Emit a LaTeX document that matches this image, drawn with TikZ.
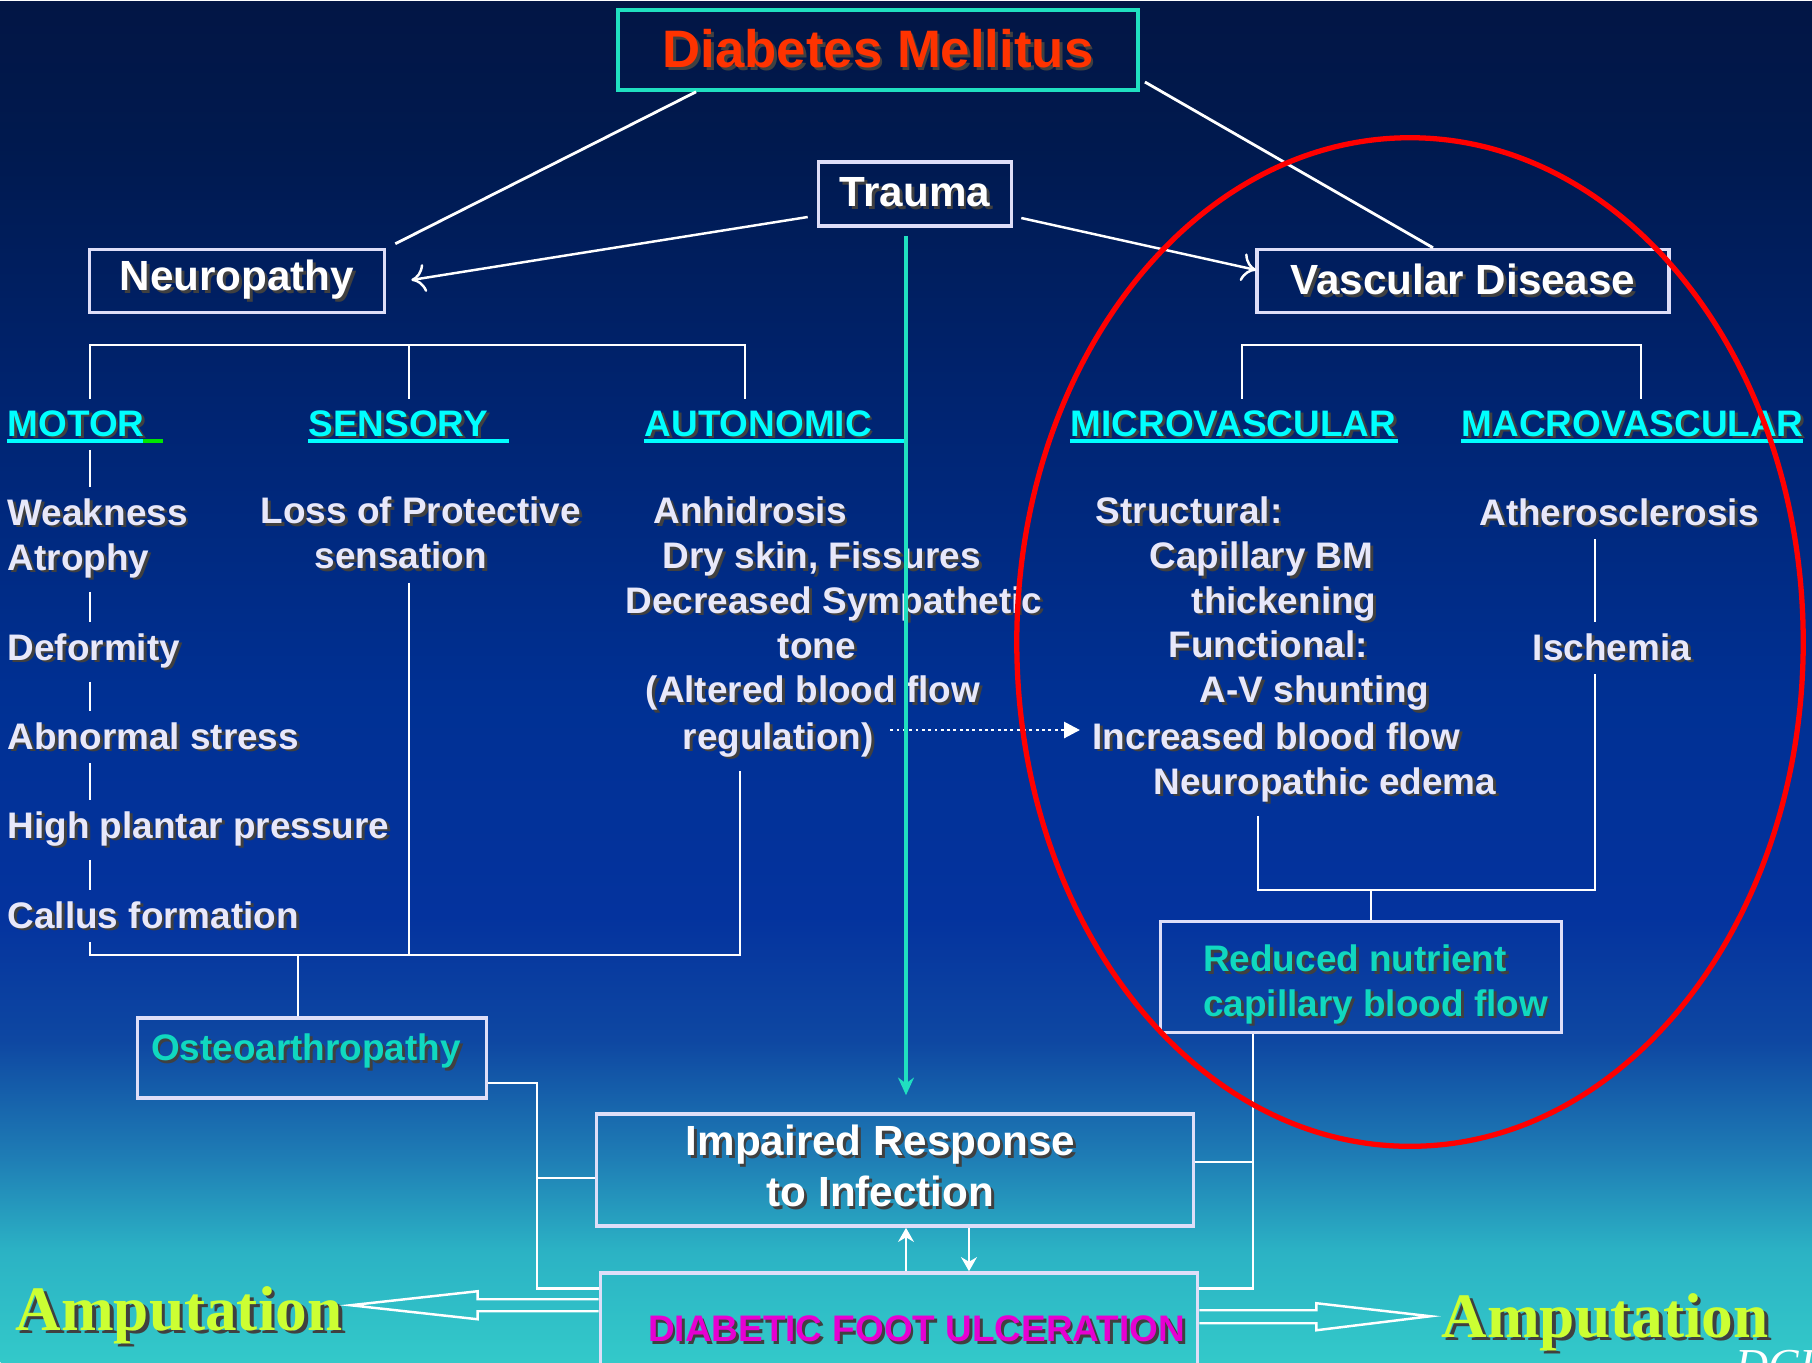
\documentclass[tikz,border=0pt]{standalone}
\usepackage{fontspec}
\setmainfont{Liberation Sans}
\newfontfamily\ampfont{Liberation Serif}
\usetikzlibrary{arrows.meta,calc}

\definecolor{dmred}{RGB}{255,51,0}
\definecolor{dmteal}{RGB}{32,224,192}
\definecolor{headcyan}{RGB}{0,255,255}
\definecolor{bodytxt}{RGB}{232,232,250}
\definecolor{boxline}{RGB}{222,222,248}
\definecolor{aquatxt}{RGB}{16,216,192}
\definecolor{ulcmag}{RGB}{230,0,210}
\definecolor{ampyellow}{RGB}{204,255,51}
\definecolor{ulgreen}{RGB}{0,230,0}

\pgfdeclareverticalshading{slidebg}{18.12cm}{rgb(0cm)=(0.20,0.79,0.79); rgb(1.12cm)=(0.17,0.70,0.77); rgb(2.06cm)=(0.12,0.49,0.71); rgb(3.22cm)=(0.055,0.28,0.635); rgb(4.47cm)=(0.016,0.20,0.62); rgb(6.62cm)=(0,0.19,0.58); rgb(9.62cm)=(0,0.14,0.44); rgb(12.12cm)=(0,0.10,0.31); rgb(13.62cm)=(0.01,0.085,0.27)}

\newcommand{\shadowed}[2][0.8pt]{\rlap{\kern#1\raisebox{-#1}{\color{black!75}#2}}#2}

\begin{document}
\begin{tikzpicture}[x=0.01cm, y=-0.01cm,
    box/.style={draw=boxline, line width=1pt, inner sep=0pt},
    big/.style={font=\fontsize{12}{14.5}\selectfont\bfseries, text=white},
    head/.style={font=\fontsize{10.5}{12.75}\selectfont\bfseries, text=headcyan, inner xsep=0pt, inner ysep=3pt, anchor=base west},
    body/.style={font=\fontsize{10.5}{12.75}\selectfont\bfseries, text=bodytxt, inner xsep=0pt, inner ysep=3pt},
    link/.style={draw=white, line width=0.8pt},
    uline/.style={draw=headcyan, line width=0.9pt},
    arr/.style={white, line width=0.7pt, -{To[length=4pt,width=8pt]}},
    tiny/.style={white, line width=0.8pt, -{Stealth[length=4pt,width=4.5pt]}},
    fat/.style={draw=white, line width=0.7pt},
    amp/.style={font=\ampfont\fontsize{18}{20}\selectfont\bfseries, text=ampyellow, inner sep=0pt, anchor=base}
    ]
    \useasboundingbox (0,0) rectangle (1812,1362);
    \node[inner sep=0pt, anchor=north west] (bg) at (0,0) {\pgfuseshading{slidebg}};

    % top row
    \node[box, draw=dmteal, minimum width=5.2cm, minimum height=0.8cm, font=\fontsize{15}{18}\selectfont\bfseries, text=dmred] (dm) at (878,50) {\shadowed{Diabetes Mellitus}};
    \node[box, big, minimum width=1.93cm, minimum height=0.64cm] (trauma) at (915,194) {\shadowed{Trauma}};
    \node[box, big, minimum width=2.95cm, minimum height=0.63cm] (neuro) at (237,281) {\shadowed{Neuropathy}};
    \node[box, big, minimum width=4.12cm, minimum height=0.63cm] (vasc) at (1463,281) {\shadowed{Vascular Disease}};

    % headings
    \node[head] (mot) at (7,436) {\shadowed{MOTOR}};
    \node[head] (sen) at (308,436) {\shadowed{SENSORY}};
    \node[head] (aut) at (644,436) {\shadowed{AUTONOMIC}};
    \node[head] (mic) at (1070,436) {\shadowed{MICROVASCULAR}};
    \node[head] (mac) at (1461,436) {\shadowed{MACROVASCULAR}};
    \draw[uline] ($(mot.base west)+(0,5)$) -- ++(136,0);
    \draw[ulgreen, line width=0.9pt] ($(mot.base west)+(136,5)$) -- ++(20,0);
    \draw[uline] ($(sen.base west)+(0,5)$) -- ++(201,0);
    \draw[uline] ($(aut.base west)+(0,5)$) -- ++(261,0);
    \draw[uline] ($(mic.base west)+(0,5)$) -- ++(328,0);
    \draw[uline] ($(mac.base west)+(0,5)$) -- ++(342,0);

    % motor
    \node[body, anchor=base west] (weak) at (7,525) {\shadowed{Weakness}};
    \node[body, anchor=base west] (atro) at (7,570) {\shadowed{Atrophy}};
    \node[body, anchor=base west] (deform) at (7,660) {\shadowed{Deformity}};
    \node[body, anchor=base west] (abn) at (7,749) {\shadowed{Abnormal stress}};
    \node[body, anchor=base west] (plantar) at (7,838) {\shadowed{High plantar pressure}};
    \node[body, anchor=base west] (callus) at (7,928) {\shadowed{Callus formation}};

    % sensory, autonomic
    \node[body, align=left, anchor=west] (loss) at (260,534) {\shadowed{Loss of Protective}\\ \hspace*{0.54cm}\shadowed{sensation}};
    \node[body, align=left, anchor=west] (auto) at (625,605) {\hspace*{0.28cm}\shadowed{Anhidrosis}\\ \hspace*{0.37cm}\shadowed{Dry skin, Fissures}\\ \shadowed{Decreased Sympathetic}\\ \hspace*{1.52cm}\shadowed{tone}\\ \hspace*{0.2cm}\shadowed{(Altered blood flow}};
    \node[body, anchor=base west] (regul) at (682,749) {\shadowed{regulation)}};

    % micro, macro
    \node[body, align=left, anchor=west] (micro) at (1095,605) {\shadowed{Structural:}\\ \hspace*{0.54cm}\shadowed{Capillary BM}\\ \hspace*{0.96cm}\shadowed{thickening}\\ \hspace*{0.73cm}\shadowed{Functional:}\\ \hspace*{1.04cm}\shadowed{A-V shunting}};
    \node[body, anchor=base west] (incr) at (1092,749) {\shadowed{Increased blood flow}};
    \node[body, anchor=base west] (edema) at (1153,794) {\shadowed{Neuropathic edema}};
    \node[body, anchor=base] (ath) at (1619,525) {\shadowed{Atherosclerosis}};
    \node[body, anchor=base] (isch) at (1612,660) {\shadowed{Ischemia}};

    % lower boxes
    \node[box, minimum width=4.01cm, minimum height=1.11cm, label={[body, text=aquatxt, align=left, xshift=0.145cm, yshift=-0.085cm]center:{\shadowed{Reduced nutrient}\\ \shadowed{capillary blood flow}}}] (reduced) at (1361,977) {};
    \node[box, minimum width=3.49cm, minimum height=0.8cm, label={[body, text=aquatxt, xshift=-0.06cm, yshift=0.055cm]center:{\shadowed{Osteoarthropathy}}}] (osteo) at (312,1058) {};
    \node[box, minimum width=5.97cm, minimum height=1.12cm, label={[big, align=center, xshift=-0.145cm, yshift=0.03cm]center:{\shadowed{Impaired Response}\\ \shadowed{to Infection}}}] (impaired) at (895,1170) {};
    \node[box, minimum width=5.97cm, minimum height=1.1cm, label={[body, text=ulcmag, xshift=0.175cm, yshift=-0.02cm]center:{\shadowed{DIABETIC FOOT ULCERATION}}}] (dfu) at (899,1328) {};

    \node[amp] (ampL) at (179,1330) {\shadowed[1.1pt]{Amputation}};
    \node[amp] (ampR) at (1605,1337) {\shadowed[1.1pt]{Amputation}};
    \node[font=\ampfont\itshape\fontsize{13}{15}\selectfont, text=white, anchor=base west, inner sep=0pt] (sig) at (1735,1380) {DCF};

    % rails
    \coordinate (mx) at (90,0);
    \coordinate (sx) at (409,0);
    \coordinate (ax) at (745,0);
    \coordinate (ax2) at (740,0);
    \coordinate (ox) at (298,0);
    \coordinate (ntop) at (0,345);
    \coordinate (nbot) at (0,955);
    \coordinate (v1) at (1242,0);
    \coordinate (v2) at (1641,0);
    \coordinate (v3) at (1258,0);
    \coordinate (v4) at (1595,0);
    \coordinate (v5) at (1371,0);
    \coordinate (vbot) at (0,890);
    \coordinate (tx) at (906,0);
    \coordinate (dx) at (969,0);
    \coordinate (ljoin) at (537,1178);
    \coordinate (rjoin) at (1253,1162);

    \draw[link] ($(dm.south west)+(80,0)$) -- ($(neuro.north east)+(9,-4)$);
    \draw[link] ($(dm.east)+(5,32)$) -- ($(vasc.north)+(-30,0)$);
    \draw[arr] ($(trauma.west)+(-9,23)$) -- ($(neuro.east)+(25,-1)$);
    \draw[arr] ($(trauma.east)+(8,24)$) -- ($(vasc.west)+(1,-11)$);

    % neuropathy tree
    \draw[link] (mot.north -| mx) -- (ntop -| mx) -- (ntop -| ax) -- (aut.north -| ax);
    \draw[link] (ntop -| sx) -- (sen.north -| sx);
    \foreach \a/\b in {mot/weak, atro/deform, deform/abn, abn/plantar, plantar/callus}
      \draw[link] (\a.south -| mx) -- (\b.north -| mx);
    \draw[link] (callus.south -| mx) -- (nbot -| mx) -- (nbot -| ax2) -- (regul.south -| ax2);
    \draw[link] (loss.south -| sx) -- (nbot -| sx);
    \draw[link] (nbot -| ox) -- (osteo.north -| ox);

    % vascular tree
    \draw[link] (mic.north -| v1) -- (ntop -| v1) -- (ntop -| v2) -- (mac.north -| v2);
    \draw[link] (edema.south -| v3) -- (vbot -| v3) -- (vbot -| v4) -- (isch.south -| v4);
    \draw[link] (ath.south -| v4) -- (isch.north -| v4);
    \draw[link] (vbot -| v5) -- (reduced.north -| v5);

    \draw[white, line width=0.8pt, densely dotted, -{Triangle[length=4.5pt,width=4.5pt]}] ($(regul.base east)+(16,-19)$) -- ($(regul.base east -| incr.base west)+(-12,-19)$);

    % bottom
    \draw[link] ($(osteo.east)+(0,25)$) -| (ljoin) |- ($(dfu.north west)+(0,17)$);
    \draw[link] (ljoin) -- (ljoin -| impaired.west);
    \draw[link] (reduced.south -| rjoin) |- ($(dfu.north east)+(0,17)$);
    \draw[link] (rjoin) -- (rjoin -| impaired.east);
    \draw[tiny] (dfu.north -| tx) -- (impaired.south -| tx);
    \draw[tiny] (impaired.south -| dx) -- (dfu.north -| dx);
    \draw[fat] ($(dfu.north west)+(0,28)$) -- ++(-121,0) -- ++(0,-8) -- ++(-127,14) -- ++(127,14) -- ++(0,-8) -- ++(121,0);
    \draw[fat] ($(dfu.north east)+(0,39)$) -- ++(117,0) -- ++(0,-7) -- ++(114,13) -- ++(-114,14) -- ++(0,-7) -- ++(-117,0);

    \draw[draw=dmteal, line width=1.4pt, -{Stealth[length=5pt,width=4.5pt]}] ($(trauma.south -| tx)+(0,8)$) -- ($(impaired.north -| tx)+(0,-17)$);
    \draw[red, line width=1.5pt] (1410,642) ellipse [x radius=3.93cm, y radius=5.04cm];
\end{tikzpicture}
\end{document}
